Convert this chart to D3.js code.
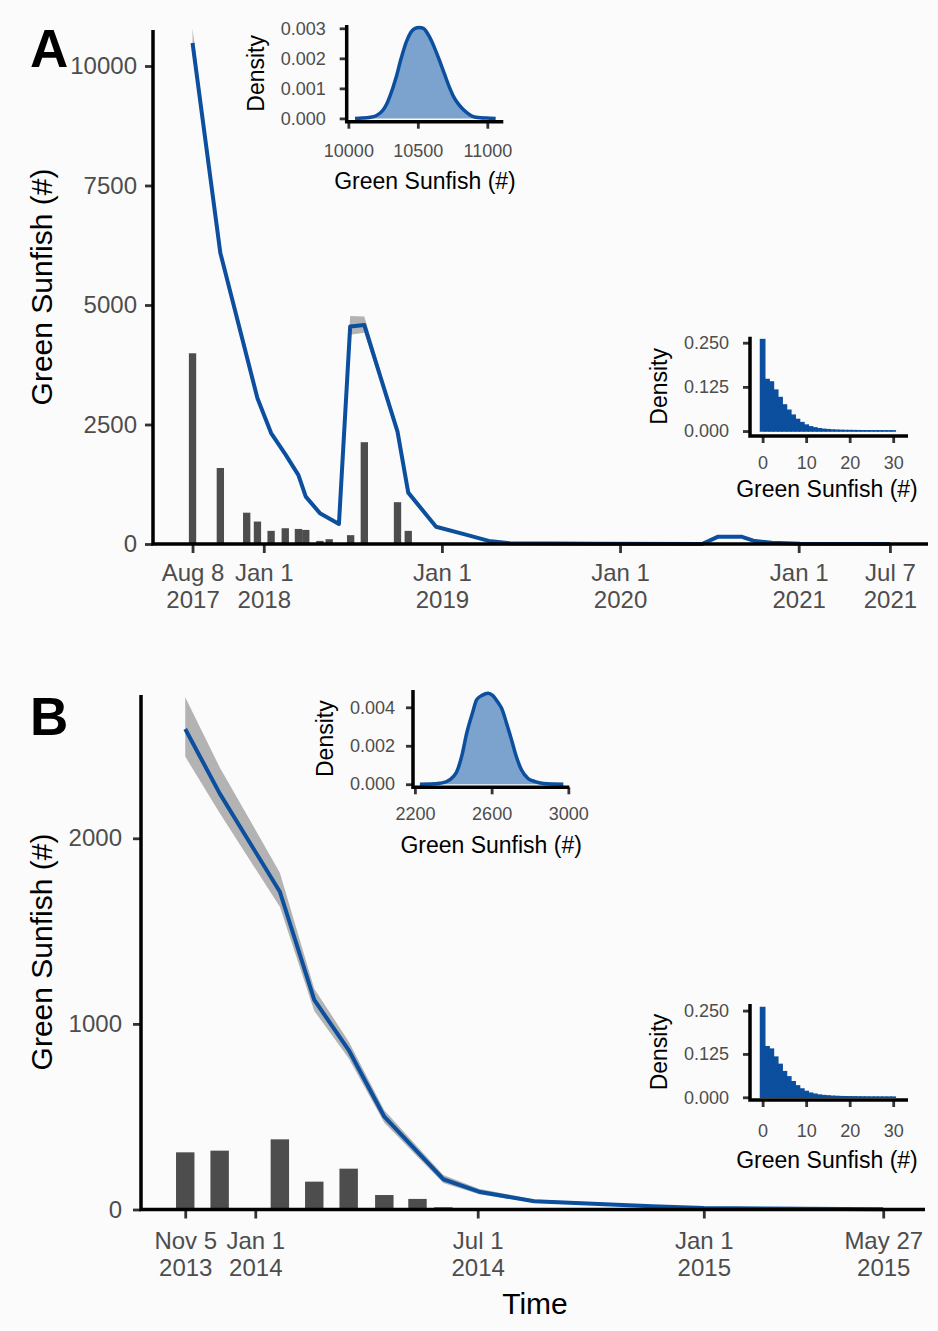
<!DOCTYPE html>
<html>
<head>
<meta charset="utf-8">
<script src="https://cdn.jsdelivr.net/npm/d3@7"></script>
<style>
  body { margin: 0; background: #fbfbfb; }
  svg { display: block; font-family: "Liberation Sans", Arial, Helvetica, sans-serif; }
</style>
</head>
<body>
<svg id="fig" width="938" height="1331"></svg>
<script>
const parseDate = d3.timeParse('%Y-%m-%d');
const BLUE = '#0b4f9e';
const LIGHTBLUE = '#7ba3cd';
const RIBBON = '#b3b3b3';
const BAR = '#4d4d4d';
const barDays = 15;

// ---- panel A : counts (bars) and estimated abundance (line + ribbon)
const aBarDates = ['2017-08-08', '2017-10-04', '2017-11-27', '2017-12-19', '2018-01-16', '2018-02-14',
  '2018-03-13', '2018-03-28', '2018-04-26', '2018-05-15', '2018-06-28', '2018-07-26', '2018-10-02',
  '2018-10-24', '2020-09-06'];
const aBarCounts = [3990, 1590, 655, 470, 275, 330, 315, 295, 65, 100, 185, 2130, 875, 275, 20];

const aLineDates = ['2017-08-08', '2017-10-04', '2017-12-19', '2018-01-16', '2018-02-14', '2018-03-13',
  '2018-03-28', '2018-04-26', '2018-06-04', '2018-06-27', '2018-07-26', '2018-10-02', '2018-10-24',
  '2018-12-20', '2019-02-17', '2019-04-07', '2019-05-20', '2019-11-21', '2020-06-17', '2020-07-19',
  '2020-09-07', '2020-09-30', '2020-11-07', '2021-01-04', '2021-07-07'];
const aLineMean = [10480, 6090, 3050, 2320, 1880, 1440, 990, 645, 420, 4550, 4580, 2350, 1075, 360, 200,
  65, 15, 5, 0, 150, 150, 70, 25, 5, 2];
const aLineLower = [10260, 6000, 2990, 2270, 1840, 1410, 965, 625, 405, 4380, 4420, 2300, 1045, 345, 190,
  60, 12, 3, 0, 135, 135, 62, 20, 3, 1];
const aLineUpper = [10780, 6190, 3110, 2370, 1920, 1470, 1015, 665, 435, 4770, 4760, 2400, 1105, 375, 210,
  70, 18, 7, 0, 165, 165, 78, 30, 7, 3];

const aXTicks = ['2017-08-08', '2018-01-01', '2019-01-01', '2020-01-01', '2021-01-01', '2021-07-07'];
const aYTicks = [0, 2500, 5000, 7500, 10000];

// inset A1: posterior density of initial abundance
const aDensX = [10048, 10100, 10150, 10200, 10250, 10274, 10300, 10345, 10380, 10417, 10450, 10480, 10510,
  10540, 10583, 10620, 10655, 10690, 10726, 10760, 10798, 10850, 10893, 10950, 11000, 11060];
const aDensY = [0, 0.00001, 0.00003, 0.00009, 0.00028, 0.00046, 0.00075, 0.00139, 0.00200, 0.00255, 0.00287,
  0.00300, 0.00303, 0.00300, 0.00272, 0.00235, 0.00194, 0.00150, 0.00105, 0.00070, 0.00044, 0.00020,
  0.00007, 0.00002, 0.00001, 0];

// ---- panel B
const bBarDates = ['2013-11-05', '2013-12-03', '2014-01-21', '2014-02-18', '2014-03-18', '2014-04-16',
  '2014-05-13', '2014-06-03'];
const bBarCounts = [308, 317, 378, 150, 220, 78, 57, 12];

const bLineDates = ['2013-11-05', '2013-12-03', '2014-01-21', '2014-02-18', '2014-03-18', '2014-04-16',
  '2014-05-13', '2014-06-03', '2014-07-02', '2014-08-16', '2014-11-20', '2015-01-01', '2015-05-27'];
const bLineMean = [2589, 2242, 1712, 1129, 859, 500, 310, 163, 96, 44, 17, 8, 1];
const bLineLower = [2440, 2136, 1631, 1070, 815, 468, 284, 143, 82, 36, 12, 5, 0];
const bLineUpper = [2760, 2383, 1815, 1190, 905, 535, 338, 186, 112, 54, 23, 11, 3];

const bXTicks = ['2013-11-05', '2014-01-01', '2014-07-01', '2015-01-01', '2015-05-27'];
const bYTicks = [0, 1000, 2000];

const bDensX = [2226, 2280, 2330, 2366, 2400, 2418, 2445, 2470, 2500, 2522, 2550, 2582, 2605, 2630, 2652,
  2680, 2704, 2730, 2756, 2790, 2826, 2870, 2920, 2974];
const bDensY = [0, 0.00001, 0.00005, 0.00014, 0.00040, 0.00065, 0.0015, 0.00265, 0.0037, 0.00440, 0.00462,
  0.00473, 0.00462, 0.0043, 0.00395, 0.0031, 0.0023, 0.0014, 0.00074, 0.0003, 0.00014, 0.00004, 0.00001, 0];

// right insets: distribution of remaining fish (same in both panels), bins 0..30
const remainDensity = [0.259, 0.146, 0.139, 0.116, 0.095, 0.074, 0.059, 0.045, 0.033, 0.024, 0.017, 0.012,
  0.009, 0.0065, 0.005, 0.004, 0.003, 0.0025, 0.002, 0.0017, 0.0015, 0.0013, 0.0011, 0.001, 0.0009,
  0.0008, 0.0008, 0.0007, 0.0007, 0.0006, 0.0006];

const svg = d3.select('#fig');
const fmtMonth = d3.timeFormat('%b %-d');
const fmtYear = d3.timeFormat('%Y');

function axisLines(g, left, right, top, bottom, w) {
  g.append('path')
    .attr('d', `M${left},${top}V${bottom}H${right}`)
    .attr('fill', 'none')
    .attr('stroke', '#000')
    .attr('stroke-width', w);
}

function styleTicks(g, size) {
  g.select('.domain').remove();
  g.selectAll('.tick line').attr('stroke', '#333').attr('stroke-width', 2.8);
  g.selectAll('.tick text').attr('fill', '#4d4d4d').style('font-size', size + 'px');
}

function drawMain(c) {
  const g = svg.append('g');
  const half = barDays / 2 * 864e5;
  const bars = c.barDates.map((d, i) => ({ date: parseDate(d), n: c.barCounts[i] }));
  g.selectAll('rect.bar')
    .data(bars)
    .join('rect')
    .attr('class', 'bar')
    .attr('x', d => c.x(new Date(+d.date - half)))
    .attr('width', d => c.x(new Date(+d.date + half)) - c.x(new Date(+d.date - half)))
    .attr('y', d => c.y(d.n))
    .attr('height', d => c.y(0) - c.y(d.n))
    .attr('fill', BAR);

  const pts = c.lineDates.map((d, i) => ({
    date: parseDate(d), m: c.mean[i], lo: c.lower[i], hi: c.upper[i],
  }));
  g.append('path')
    .datum(pts)
    .attr('d', d3.area().x(d => c.x(d.date)).y0(d => c.y(d.lo)).y1(d => c.y(d.hi)))
    .attr('fill', RIBBON);
  g.append('path')
    .datum(pts)
    .attr('d', d3.line().x(d => c.x(d.date)).y(d => c.y(d.m)))
    .attr('fill', 'none')
    .attr('stroke', BLUE)
    .attr('stroke-width', 4)
    .attr('stroke-linejoin', 'round');

  const [left, right] = c.x.range();
  const [bottom, top] = c.y.range();

  const gy = g.append('g')
    .attr('transform', `translate(${left},0)`)
    .call(d3.axisLeft(c.y).tickValues(c.yTicks).tickFormat(d3.format('d')).tickSize(8).tickPadding(c.yPad));
  styleTicks(gy, 24);

  const gx = g.append('g')
    .attr('transform', `translate(0,${bottom})`)
    .call(d3.axisBottom(c.x).tickValues(c.xTicks.map(parseDate)).tickSize(9));
  styleTicks(gx, 24);
  gx.selectAll('.tick text')
    .text(null)
    .attr('dy', null)
    .attr('y', null)
    .each(function (d) {
      const t = d3.select(this);
      t.append('tspan').attr('x', 0).attr('y', c.xLab1).text(fmtMonth(d));
      t.append('tspan').attr('x', 0).attr('y', c.xLab2).text(fmtYear(d));
    });

  axisLines(g, left, right, top, bottom, 3.5);

  g.append('text')
    .attr('transform', `translate(52,${c.titleY}) rotate(-90)`)
    .attr('text-anchor', 'middle')
    .style('font-size', '30px')
    .attr('fill', '#000')
    .text('Green Sunfish (#)');

  g.append('text')
    .attr('x', 30)
    .attr('y', c.letterY)
    .style('font-size', '53px')
    .style('font-weight', 'bold')
    .attr('fill', '#000')
    .text(c.letter);
}

function drawInset(c) {
  const g = svg.append('g');
  const [left, right] = c.x.range();
  const [bottom, top] = c.y.range();

  if (c.kind === 'density') {
    const pts = c.densX.map((v, i) => ({ v, d: c.densY[i] }));
    g.append('path')
      .datum(pts)
      .attr('d', d3.area().curve(d3.curveMonotoneX).x(d => c.x(d.v)).y0(c.y(0)).y1(d => c.y(d.d)))
      .attr('fill', LIGHTBLUE);
    g.append('path')
      .datum(pts)
      .attr('d', d3.line().curve(d3.curveMonotoneX).x(d => c.x(d.v)).y(d => c.y(d.d)))
      .attr('fill', 'none')
      .attr('stroke', BLUE)
      .attr('stroke-width', 3.5)
      .attr('stroke-linejoin', 'round');
  } else {
    g.selectAll('rect')
      .data(remainDensity)
      .join('rect')
      .attr('x', (d, i) => c.x(i - 0.5))
      .attr('width', c.x(1) - c.x(0))
      .attr('y', d => c.y(d))
      .attr('height', d => c.y(0) - c.y(d))
      .attr('fill', BLUE)
      .attr('stroke', BLUE)
      .attr('stroke-width', 1.4);
  }

  const gy = g.append('g')
    .attr('transform', `translate(${left},0)`)
    .call(d3.axisLeft(c.y).tickValues(c.yTicks).tickFormat(d3.format('.3f')).tickSize(7).tickPadding(c.yPad));
  styleTicks(gy, 18);

  const gx = g.append('g')
    .attr('transform', `translate(0,${bottom})`)
    .call(d3.axisBottom(c.x).tickValues(c.xTicks).tickFormat(d3.format('d')).tickSize(7));
  styleTicks(gx, 18);
  gx.selectAll('.tick text').attr('dy', null).attr('y', c.xLab);

  axisLines(g, left, right, top, bottom, 3.5);

  g.append('text')
    .attr('x', (left + right) / 2 + c.titleDx)
    .attr('y', c.titleY)
    .attr('text-anchor', 'middle')
    .style('font-size', '23px')
    .attr('fill', '#000')
    .text('Green Sunfish (#)');

  g.append('text')
    .attr('transform', `translate(${c.densLabX},${(top + bottom) / 2}) rotate(-90)`)
    .attr('text-anchor', 'middle')
    .style('font-size', '23px')
    .attr('fill', '#000')
    .text('Density');
}

// ---- panel A
drawMain({
  x: d3.scaleTime().domain([parseDate('2017-05-19'), parseDate('2021-09-23')]).range([153, 928]),
  y: d3.scaleLinear().domain([0, 10753]).range([544, 30]),
  barDates: aBarDates, barCounts: aBarCounts,
  lineDates: aLineDates, mean: aLineMean, lower: aLineLower, upper: aLineUpper,
  xTicks: aXTicks, yTicks: aYTicks, yPad: 8,
  xLab1: 37, xLab2: 64, titleY: 287, letter: 'A', letterY: 67,
});

drawInset({
  kind: 'density',
  x: d3.scaleLinear().domain([9988, 11115]).range([346.7, 503.3]),
  y: d3.scaleLinear().domain([-0.00011, 0.00311]).range([121.7, 25]),
  densX: aDensX, densY: aDensY,
  xTicks: [10000, 10500, 11000], yTicks: [0, 0.001, 0.002, 0.003], yPad: 14,
  xLab: 35, titleY: 189, titleDx: 0, densLabX: 264,
});

drawInset({
  kind: 'hist',
  x: d3.scaleLinear().domain([-2.9, 33.4]).range([750, 908]),
  y: d3.scaleLinear().domain([-0.014, 0.267]).range([436, 336.7]),
  xTicks: [0, 10, 20, 30], yTicks: [0, 0.125, 0.25], yPad: 14,
  xLab: 33, titleY: 497, titleDx: -2, densLabX: 667,
});

// ---- panel B
drawMain({
  x: d3.scaleTime().domain([parseDate('2013-09-30'), parseDate('2015-06-30')]).range([141, 925]),
  y: d3.scaleLinear().domain([0, 2772]).range([1209.5, 695]),
  barDates: bBarDates, barCounts: bBarCounts,
  lineDates: bLineDates, mean: bLineMean, lower: bLineLower, upper: bLineUpper,
  xTicks: bXTicks, yTicks: bYTicks, yPad: 11,
  xLab1: 39, xLab2: 66, titleY: 952, letter: 'B', letterY: 735,
});

drawInset({
  kind: 'density',
  x: d3.scaleLinear().domain([2190, 3005]).range([413, 569.3]),
  y: d3.scaleLinear().domain([-0.00016, 0.0049]).range([787.3, 690]),
  densX: bDensX, densY: bDensY,
  xTicks: [2200, 2600, 3000], yTicks: [0, 0.002, 0.004], yPad: 11,
  xLab: 33, titleY: 853, titleDx: 0, densLabX: 333,
});

drawInset({
  kind: 'hist',
  x: d3.scaleLinear().domain([-2.9, 33.4]).range([750, 908]),
  y: d3.scaleLinear().domain([-0.0078, 0.269]).range([1100, 1004]),
  xTicks: [0, 10, 20, 30], yTicks: [0, 0.125, 0.25], yPad: 14,
  xLab: 37, titleY: 1168, titleDx: -2, densLabX: 667,
});

svg.append('text')
  .attr('x', 535)
  .attr('y', 1314)
  .attr('text-anchor', 'middle')
  .style('font-size', '30px')
  .attr('fill', '#000')
  .text('Time');
</script>
</body>
</html>
